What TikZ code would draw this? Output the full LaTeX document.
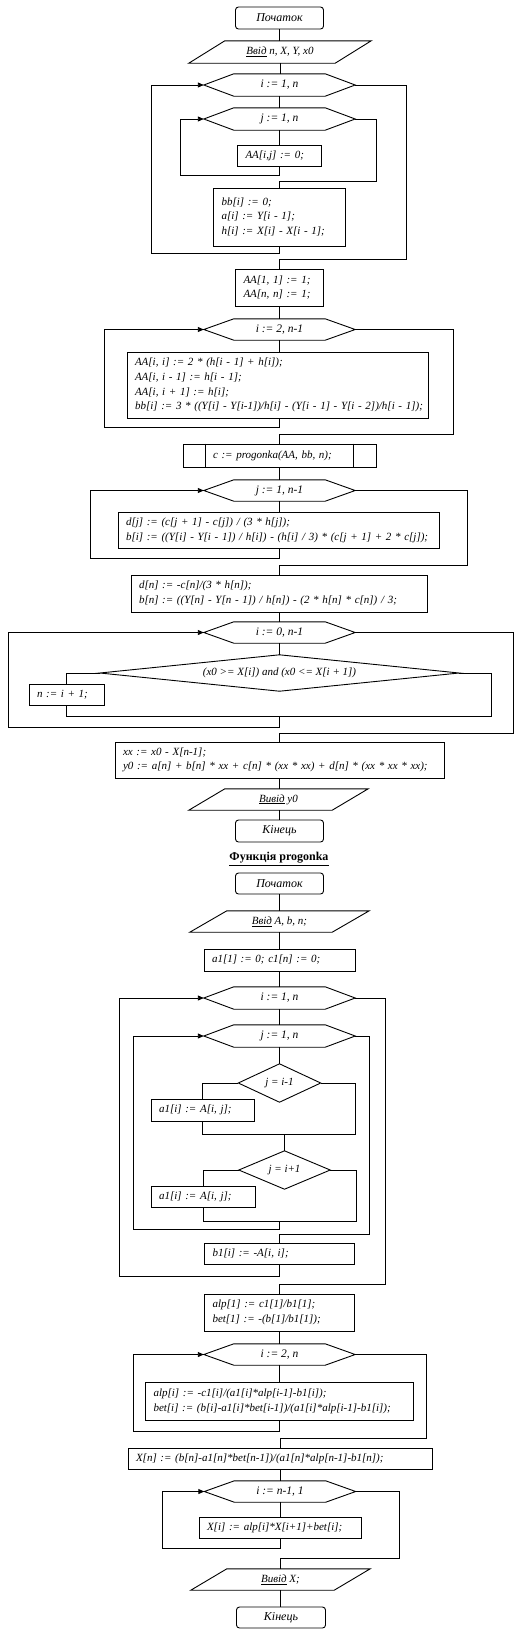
\documentclass[tikz,border=0pt]{standalone}
\usepackage{fontspec}
\setmainfont{Liberation Serif}
\usetikzlibrary{arrows.meta}
\newcommand\hexo[1]{\draw[conn] (#1.west) -- ([xshift=30pt]#1.north west) -- ([xshift=-30pt]#1.north east) -- (#1.east) -- ([xshift=-30pt]#1.south east) -- ([xshift=30pt]#1.south west) -- cycle;}
\newcommand\parao[2]{\draw[conn] ([xshift=#2]#1.north west) -- (#1.north east) -- ([xshift=-#2]#1.south east) -- (#1.south west) -- cycle;}
\newcommand\diamo[1]{\draw[conn] (#1.north) -- (#1.east) -- (#1.south) -- (#1.west) -- cycle;}
\newcommand\lne[1]{\mbox{#1}}
\begin{document}
\begin{tikzpicture}[x=1pt,y=-1pt,
  every node/.style={font=\fontsize{11}{14.7}\selectfont\itshape, text=black},
  conn/.style={line width=0.9pt, draw=black},
  arr/.style={conn, -{Triangle[length=6pt,width=5pt]}},
  term/.style={draw, line width=0.9pt, rounded corners=3pt, minimum width=88pt, minimum height=22pt, inner sep=0pt, font=\fontsize{12}{14}\selectfont\itshape},
  proc/.style={draw, line width=0.9pt, rectangle, inner xsep=8pt, inner ysep=0pt, align=left},
  hx/.style={minimum width=151pt, minimum height=22pt, inner sep=0pt, font=\fontsize{11.5}{14}\selectfont\itshape},
  shp/.style={inner sep=0pt},
  ttl/.style={font=\fontsize{12}{14}\selectfont\bfseries}
]
\useasboundingbox (0,0) rectangle (526,1634);

% ---------- main program ----------
\node[term] (s1) at (279.5,18) {Початок};
\node[shp, minimum width=182pt, minimum height=22pt] (in1) at (280,52) {\underline{Ввід} n, X, Y, x0};
\parao{in1}{36pt}
\node[hx] (h1) at (279.5,85) {i := 1, n}; \hexo{h1}
\node[hx] (h2) at (279.5,119) {j := 1, n}; \hexo{h2}
\node[proc, text width=68pt, minimum height=21pt] (p1) at (279.5,155.5) {\lne{AA[i,j] := 0;}};
\node[proc, text width=116pt, minimum height=58pt] (p2) at (279.5,217) {\lne{bb[i] := 0;}\\ \lne{a[i] := Y[i - 1];}\\ \lne{h[i] := X[i] - X[i - 1];}};
\node[proc, text width=72pt, minimum height=37pt] (p3) at (279.5,287.5) {\lne{AA[1, 1] := 1;}\\ \lne{AA[n, n] := 1;}};
\node[hx, minimum height=21pt] (h3) at (279.5,329.5) {i := 2, n-1}; \hexo{h3}
\node[proc, text width=285pt, minimum height=66pt] (p4) at (277.5,385) {\lne{AA[i, i] := 2 * (h[i - 1] + h[i]);}\\ \lne{AA[i, i - 1] := h[i - 1];}\\ \lne{AA[i, i + 1] := h[i];}\\ \lne{bb[i] := 3 * ((Y[i] - Y[i-1])/h[i] - (Y[i - 1] - Y[i - 2])/h[i - 1]);}};
\node[proc, inner xsep=30pt, text width=133pt, minimum height=23pt] (p5) at (279.5,455.5) {\lne{c := progonka(AA, bb, n);}};
\draw[conn] ([xshift=23pt]p5.north west) -- ([xshift=23pt]p5.south west);
\draw[conn] ([xshift=-23pt]p5.north east) -- ([xshift=-23pt]p5.south east);
\node[hx, minimum height=21pt] (h4) at (279.5,490.5) {j := 1, n-1}; \hexo{h4}
\node[proc, text width=305pt, minimum height=36pt] (p6) at (278.5,530) {\lne{d[j] := (c[j + 1] - c[j]) / (3 * h[j]);}\\ \lne{b[i] := ((Y[i] - Y[i - 1]) / h[i]) - (h[i] / 3) * (c[j + 1] + 2 * c[j]);}};
\node[proc, text width=280pt, minimum height=37pt] (p7) at (279,593.5) {\lne{d[n] := -c[n]/(3 * h[n]);}\\ \lne{b[n] := ((Y[n] - Y[n - 1]) / h[n]) - (2 * h[n] * c[n]) / 3;}};
\node[hx, minimum height=21pt] (h5) at (279.5,632.5) {i := 0, n-1}; \hexo{h5}
\node[shp, minimum width=359pt, minimum height=36pt] (d1) at (279.5,673) {(x0 >= X[i]) and (x0 <= X[i + 1])}; \diamo{d1}
\node[proc, text width=59pt, minimum height=21pt] (p8) at (66.5,694.5) {\lne{n := i + 1;}};
\node[proc, text width=313pt, minimum height=36pt] (p9) at (279.5,760) {\lne{xx := x0 - X[n-1];}\\ \lne{y0 := a[n] + b[n] * xx + c[n] * (xx * xx) + d[n] * (xx * xx * xx);}};
\node[shp, minimum width=179pt, minimum height=21pt] (o1) at (278.5,799.5) {\underline{Вивід} y0}; \parao{o1}{36pt}
\node[term] (e1) at (279.5,831) {Кінець};

% connectors main
\draw[conn] (s1.south) -- (s1.south |- in1.north);
\draw[conn] (in1.south) -- (in1.south |- h1.north);
\draw[conn] (h1.south) -- (h2.north);
\draw[conn] (h2.south) -- (p1.north);
\coordinate (j1b) at (180,175);
\draw[arr] (p1.south) |- (j1b) |- (h2.west);
\coordinate (j1e) at (376,181);
\draw[conn] (h2.east) -| (j1e) -| (p2.north);
\coordinate (i1b) at (151,253);
\draw[arr] (p2.south) |- (i1b) |- (h1.west);
\coordinate (i1e) at (406,259);
\draw[conn] (h1.east) -| (i1e) -| (p3.north);
\draw[conn] (p3.south) -- (h3.north);
\draw[conn] (h3.south) -- (h3.south |- p4.north);
\coordinate (i2b) at (104,427);
\draw[arr] (p4.south -| h3.south) |- (i2b) |- (h3.west);
\coordinate (i2e) at (453,434);
\draw[conn] (h3.east) -| (i2e) -| (p5.north);
\draw[conn] (p5.south) -- (h4.north);
\draw[conn] (h4.south) -- (h4.south |- p6.north);
\coordinate (j2b) at (90,558);
\draw[arr] (p6.south -| h4.south) |- (j2b) |- (h4.west);
\coordinate (j2e) at (467,565);
\draw[conn] (h4.east) -| (j2e) -| (p7.north -| h4.south);
\draw[conn] (p7.south -| h5.north) -- (h5.north);
\draw[conn] (h5.south) -- (d1.north);
\draw[conn] (d1.west) -| (p8.north);
\coordinate (m1r) at (491,716);
\coordinate (m1c) at (279.5,716);
\draw[conn] (d1.east) -| (m1r) -- (m1r -| p8.south) -- (p8.south);
\coordinate (i3b) at (8,727);
\draw[arr] (m1c) |- (i3b) |- (h5.west);
\coordinate (i3e) at (513,733);
\draw[conn] (h5.east) -| (i3e) -| (p9.north);
\draw[conn] (p9.south) -- (p9.south |- o1.north);
\draw[conn] (o1.south -| e1.north) -- (e1.north);

\node[ttl] (t) at (279,859) {\underline{Функція progonka}};

% ---------- progonka ----------
\node[term, minimum height=21pt] (s2) at (279.5,883.5) {Початок};
\node[shp, minimum width=179pt, minimum height=21pt] (in2) at (279.5,921.5) {\underline{Ввід} A, b, n;}; \parao{in2}{37pt}
\node[proc, text width=135pt, minimum height=22pt] (q1) at (279.5,960) {\lne{a1[1] := 0; c1[n] := 0;}};
\node[hx] (h6) at (279.5,998) {i := 1, n}; \hexo{h6}
\node[hx] (h7) at (279.5,1036) {j := 1, n}; \hexo{h7}
\node[shp, minimum width=82pt, minimum height=38pt] (d2) at (279.5,1083) {j = i-1}; \diamo{d2}
\node[proc, text width=87pt, minimum height=22pt] (q2) at (202.5,1110) {\lne{a1[i] := A[i, j];}};
\node[shp, minimum width=91pt, minimum height=38pt] (d3) at (284.5,1170) {j = i+1}; \diamo{d3}
\node[proc, text width=88pt, minimum height=21pt] (q3) at (203,1196.5) {\lne{a1[i] := A[i, j];}};
\node[proc, text width=134pt, minimum height=21pt] (q4) at (279.5,1253.5) {\lne{b1[i] := -A[i, i];}};
\node[proc, text width=134pt, minimum height=37pt] (q5) at (279.5,1312.5) {\lne{alp[1] := c1[1]/b1[1];}\\ \lne{bet[1] := -(b[1]/b1[1]);}};
\node[hx, minimum height=21pt] (h8) at (279.5,1354.5) {i := 2, n}; \hexo{h8}
\node[proc, text width=252pt, minimum height=38pt] (q6) at (279.5,1401) {\lne{alp[i] := -c1[i]/(a1[i]*alp[i-1]-b1[i]);}\\ \lne{bet[i] := (b[i]-a1[i]*bet[i-1])/(a1[i]*alp[i-1]-b1[i]);}};
\node[proc, text width=288pt, minimum height=21pt] (q7) at (280,1458.5) {\lne{X[n] := (b[n]-a1[n]*bet[n-1])/(a1[n]*alp[n-1]-b1[n]);}};
\node[hx, minimum height=21pt] (h9) at (280,1491.5) {i := n-1, 1}; \hexo{h9}
\node[proc, text width=146pt, minimum height=21pt] (q8) at (280,1527.5) {\lne{X[i] := alp[i]*X[i+1]+bet[i];}};
\node[shp, minimum width=179pt, minimum height=21pt] (o2) at (280.5,1579.5) {\underline{Вивід} X;}; \parao{o2}{36pt}
\node[term, minimum width=89pt, minimum height=21pt] (e2) at (281,1617.5) {Кінець};

% connectors progonka
\draw[conn] (s2.south) -- (in2.north);
\draw[conn] (in2.south) -- (q1.north);
\draw[conn] (q1.south) -- (h6.north);
\draw[conn] (h6.south) -- (h7.north);
\draw[conn] (h7.south) -- (d2.north);
\draw[conn] (d2.west) -| (q2.north);
\coordinate (m2r) at (355,1134);
\draw[conn] (d2.east) -| (m2r) -- (m2r -| q2.south) -- (q2.south);
\draw[conn] (m2r -| d3.north) -- (d3.north);
\draw[conn] (d3.west) -| (q3.north);
\coordinate (m3r) at (356,1221);
\coordinate (m3c) at (279.5,1221);
\draw[conn] (d3.east) -| (m3r) -- (m3r -| q3.south) -- (q3.south);
\coordinate (j3b) at (133,1229);
\draw[arr] (m3c) |- (j3b) |- (h7.west);
\coordinate (j3e) at (369,1234);
\draw[conn] (h7.east) -| (j3e) -| (q4.north);
\coordinate (i4b) at (119,1276);
\draw[arr] (q4.south) |- (i4b) |- (h6.west);
\coordinate (i4e) at (385,1284);
\draw[conn] (h6.east) -| (i4e) -| (q5.north);
\draw[conn] (q5.south) -- (h8.north);
\draw[conn] (h8.south) -- (q6.north);
\coordinate (i5b) at (133,1431);
\draw[arr] (q6.south) |- (i5b) |- (h8.west);
\coordinate (i5e) at (426,1438);
\draw[conn] (h8.east) -| (i5e) -| (q7.north);
\draw[conn] (q7.south) -- (h9.north);
\draw[conn] (h9.south) -- (q8.north);
\coordinate (i6b) at (162,1548);
\draw[arr] (q8.south) |- (i6b) |- (h9.west);
\coordinate (i6e) at (399,1558);
\draw[conn] (h9.east) -| (i6e) -| (o2.north -| q8.south);
\draw[conn] (o2.south -| q8.south) -- (e2.north -| q8.south);
\end{tikzpicture}
\end{document}
